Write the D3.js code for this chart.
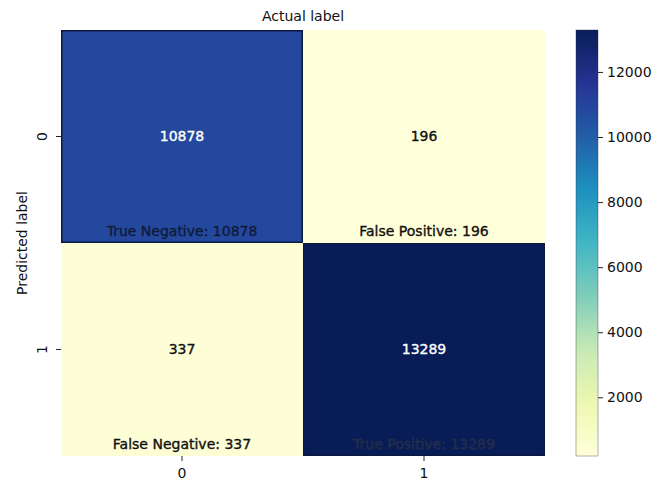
<!DOCTYPE html>
<html>
<head>
<meta charset="utf-8">
<script src="https://cdn.jsdelivr.net/npm/d3@7"></script>
<style>
  html, body { margin: 0; padding: 0; background: #fff; }
  svg { display: block; }
  text { font-family: "DejaVu Sans", sans-serif; }
</style>
</head>
<body>
<svg id="chart" width="670" height="483"></svg>
<script>
// Confusion matrix: rows = predicted label, columns = actual label
const predictedLabels = ["0", "1"];
const actualLabels = ["0", "1"];
const counts = [
  [10878, 196],
  [337, 13289]
];
const cellNames = [
  ["True Negative", "False Positive"],
  ["False Negative", "True Positive"]
];
const colorbarTicks = [2000, 4000, 6000, 8000, 10000, 12000];

// YlGnBu colour map (matplotlib's nine anchor colours)
const ylgnbu = ["#ffffd9", "#edf8b1", "#c7e9b4", "#7fcdbb", "#41b6c4",
                "#1d91c0", "#225ea8", "#253494", "#081d58"];

const svg = d3.select("#chart");
const plot = { left: 61, top: 30, right: 545, bottom: 456 };
const cbar = { left: 576, right: 598, top: 30, bottom: 456 };

const flat = counts.flat();
const vmin = d3.min(flat), vmax = d3.max(flat);
const norm = d3.scaleLinear().domain([vmin, vmax]).range([0, 1]);
const cmap = d3.scaleLinear()
  .domain(d3.range(ylgnbu.length).map(i => i / (ylgnbu.length - 1)))
  .range(ylgnbu)
  .interpolate(d3.interpolateRgb);
const color = v => cmap(norm(v));

const x = d3.scaleBand().domain(actualLabels).range([plot.left, plot.right]);
const y = d3.scaleBand().domain(predictedLabels).range([plot.top, plot.bottom]);

const cells = [];
predictedLabels.forEach((p, i) => actualLabels.forEach((a, j) => {
  cells.push({ p, a, v: counts[i][j], name: cellNames[i][j] });
}));

// Heatmap cells
svg.append("g").selectAll("rect").data(cells).join("rect")
  .attr("x", d => x(d.a))
  .attr("y", d => y(d.p))
  .attr("width", x.bandwidth())
  .attr("height", y.bandwidth())
  .attr("fill", d => color(d.v));

// Dark outline around the high-count cells
svg.append("g").selectAll("rect").data(cells.filter(d => norm(d.v) > 0.5)).join("rect")
  .attr("x", d => x(d.a) + 0.75)
  .attr("y", d => y(d.p) + 0.75)
  .attr("width", x.bandwidth() - 1.5)
  .attr("height", y.bandwidth() - 1.5)
  .attr("fill", "none")
  .attr("stroke", "#0b1840")
  .attr("stroke-width", 1.5);

// Count in the middle of each cell
svg.append("g").selectAll("text").data(cells).join("text")
  .attr("x", d => x(d.a) + x.bandwidth() / 2)
  .attr("y", d => y(d.p) + y.bandwidth() / 2)
  .attr("dy", "0.35em")
  .attr("text-anchor", "middle")
  .attr("font-size", 14)
  .attr("fill", d => norm(d.v) > 0.5 ? "#ffffff" : "#111111")
  .attr("stroke", d => norm(d.v) > 0.5 ? "#ffffff" : "#111111")
  .attr("stroke-width", 0.35)
  .text(d => d.v);

// Named outcome along the bottom of each cell
const labelInk = d => norm(d.v) > 0.9 ? "#252d48" : norm(d.v) > 0.5 ? "#101a3a" : "#111111";
svg.append("g").selectAll("text").data(cells).join("text")
  .attr("x", d => x(d.a) + x.bandwidth() / 2)
  .attr("y", d => y(d.p) + y.bandwidth() - 7)
  .attr("text-anchor", "middle")
  .attr("font-size", 14)
  .attr("fill", labelInk)
  .attr("stroke", labelInk)
  .attr("stroke-width", 0.35)
  .text(d => `${d.name}: ${d.v}`);

// Axes
const xAxis = svg.append("g")
  .attr("transform", `translate(0,${plot.bottom})`)
  .call(d3.axisBottom(x).tickSize(5).tickPadding(4));
const yAxis = svg.append("g")
  .attr("transform", `translate(${plot.left},0)`)
  .call(d3.axisLeft(y).tickSize(5).tickPadding(4));
[xAxis, yAxis].forEach(g => {
  g.select(".domain").remove();
  g.selectAll(".tick line").attr("stroke", "#222").attr("stroke-width", 1);
  g.selectAll(".tick text").attr("font-size", 14).attr("fill", "#111")
    .attr("font-family", "DejaVu Sans, sans-serif");
});
xAxis.selectAll(".tick text").attr("dy", "0.95em");
// y tick labels read bottom-to-top
yAxis.selectAll(".tick text")
  .attr("text-anchor", "middle")
  .attr("transform", "rotate(-90)")
  .attr("x", 0).attr("y", -14).attr("dy", 0);

// Axis titles
svg.append("text")
  .attr("x", (plot.left + plot.right) / 2)
  .attr("y", 21)
  .attr("text-anchor", "middle")
  .attr("font-size", 14)
  .attr("fill", "#111")
  .text("Actual label");
svg.append("text")
  .attr("transform", `translate(27,${(plot.top + plot.bottom) / 2}) rotate(-90)`)
  .attr("text-anchor", "middle")
  .attr("font-size", 14)
  .attr("fill", "#111")
  .text("Predicted label");

// Colour bar
const cy = d3.scaleLinear().domain([vmin, vmax]).range([cbar.bottom, cbar.top]);
const grad = svg.append("defs").append("linearGradient")
  .attr("id", "cbarGrad")
  .attr("x1", 0).attr("y1", 1).attr("x2", 0).attr("y2", 0);
d3.range(0, 1.0001, 0.02).forEach(t => {
  grad.append("stop").attr("offset", t).attr("stop-color", cmap(t));
});
svg.append("rect")
  .attr("x", cbar.left).attr("y", cbar.top)
  .attr("width", cbar.right - cbar.left).attr("height", cbar.bottom - cbar.top)
  .attr("fill", "url(#cbarGrad)")
  .attr("stroke", "#2a2a3a").attr("stroke-width", 0.6).attr("stroke-opacity", 0.6);
const cAxis = svg.append("g")
  .attr("transform", `translate(${cbar.right},0)`)
  .call(d3.axisRight(cy).tickValues(colorbarTicks).tickFormat(d3.format("d"))
    .tickSize(5).tickPadding(4));
cAxis.select(".domain").remove();
cAxis.selectAll(".tick line").attr("stroke", "#222");
cAxis.selectAll(".tick text").attr("font-size", 14).attr("fill", "#111")
  .attr("font-family", "DejaVu Sans, sans-serif");
</script>
</body>
</html>
